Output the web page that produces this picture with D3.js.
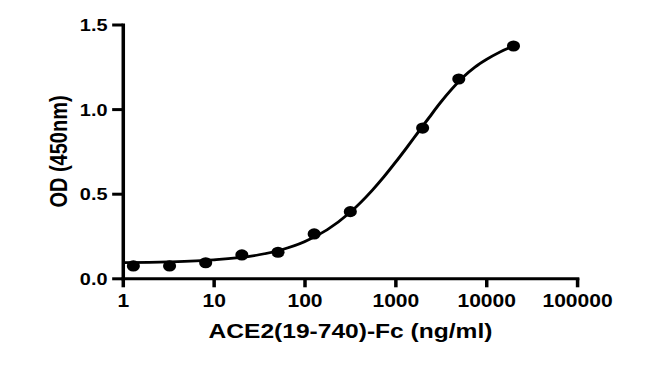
<!DOCTYPE html>
<html>
<head>
<meta charset="utf-8">
<script src="https://cdn.jsdelivr.net/npm/d3@7"></script>
<style>
  html, body { margin: 0; padding: 0; background: #fff; }
  svg { display: block; }
  text { font-family: "Liberation Sans", Arial, sans-serif; font-weight: bold; fill: #000; }
</style>
</head>
<body>
<div id="chart"></div>
<script>
// Measured data points (concentration in ng/ml, OD 450nm)
const concentrations = [1.31, 3.28, 8.19, 20.48, 51.2, 128, 320, 2000, 5000, 20000];
const odValues = [0.073, 0.073, 0.092, 0.138, 0.154, 0.262, 0.394, 0.888, 1.178, 1.373];

// Fitted curve
const curveX = [1, 3.16, 10, 31.6, 56.2, 100, 178, 316, 562, 750, 1000, 1334, 1778, 2371, 3162, 4217, 5623, 7499, 10000, 14125, 20000];
const curveY = [0.093, 0.097, 0.109, 0.139, 0.169, 0.216, 0.287, 0.388, 0.522, 0.600, 0.684, 0.772, 0.862, 0.952, 1.040, 1.120, 1.190, 1.247, 1.292, 1.337, 1.372];

const xTicks = [1, 10, 100, 1000, 10000, 100000];
const yTicks = [0.0, 0.5, 1.0, 1.5];

const xTitle = "ACE2(19-740)-Fc (ng/ml)";
const yTitle = "OD (450nm)";

const W = 655, H = 379;
const sx = 1.17; // horizontal stretch of the original picture

const svg = d3.select("#chart").append("svg")
  .attr("width", W).attr("height", H)
  .style("background", "#fff");

const g = svg.append("g").attr("transform", `scale(${sx},1)`);

const x = d3.scaleLog().domain([1, 100000]).range([122.7 / sx, 577 / sx]);
const y = d3.scaleLinear().domain([0, 1.5]).range([278.3, 24.5]);

// X axis
const xAxis = g.append("g")
  .attr("transform", `translate(0,${y(0)})`)
  .call(d3.axisBottom(x).tickValues(xTicks).tickFormat(d3.format("d")).tickSize(9).tickSizeOuter(0).tickPadding(4));
xAxis.selectAll("text").style("font-size", "18px").attr("dy", "0.9em");

// Y axis
const yAxis = g.append("g")
  .attr("transform", `translate(${x(1)},0)`)
  .call(d3.axisLeft(y).tickValues(yTicks).tickFormat(d3.format(".1f")).tickSize(9).tickSizeOuter(0).tickPadding(4));
yAxis.selectAll("text").style("font-size", "17px").attr("dy", "0.36em");

g.selectAll(".domain").attr("stroke", "#000").attr("stroke-width", 3).attr("stroke-linecap", "square");
g.selectAll(".tick line").attr("stroke", "#000").attr("stroke-width", 3);

// Fitted curve
const pts = curveX.map((d, i) => [d, curveY[i]]);
g.append("path")
  .datum(pts)
  .attr("fill", "none")
  .attr("stroke", "#000")
  .attr("stroke-width", 2.7)
  .attr("d", d3.line().x(d => x(d[0])).y(d => y(d[1])).curve(d3.curveMonotoneX));

// Data points
g.selectAll("circle.pt")
  .data(concentrations.map((c, i) => [c, odValues[i]]))
  .enter().append("circle")
  .attr("class", "pt")
  .attr("cx", d => x(d[0]))
  .attr("cy", d => y(d[1]))
  .attr("r", 5.6)
  .attr("fill", "#000");

// Axis titles
g.append("text")
  .attr("x", 350.5 / sx)
  .attr("y", 338.5)
  .attr("text-anchor", "middle")
  .style("font-size", "21px")
  .text(xTitle);

g.append("text")
  .attr("transform", `translate(${66.7 / sx},151.5) rotate(-90)`)
  .attr("text-anchor", "middle")
  .style("font-size", "20px")
  .text(yTitle);
</script>
</body>
</html>
